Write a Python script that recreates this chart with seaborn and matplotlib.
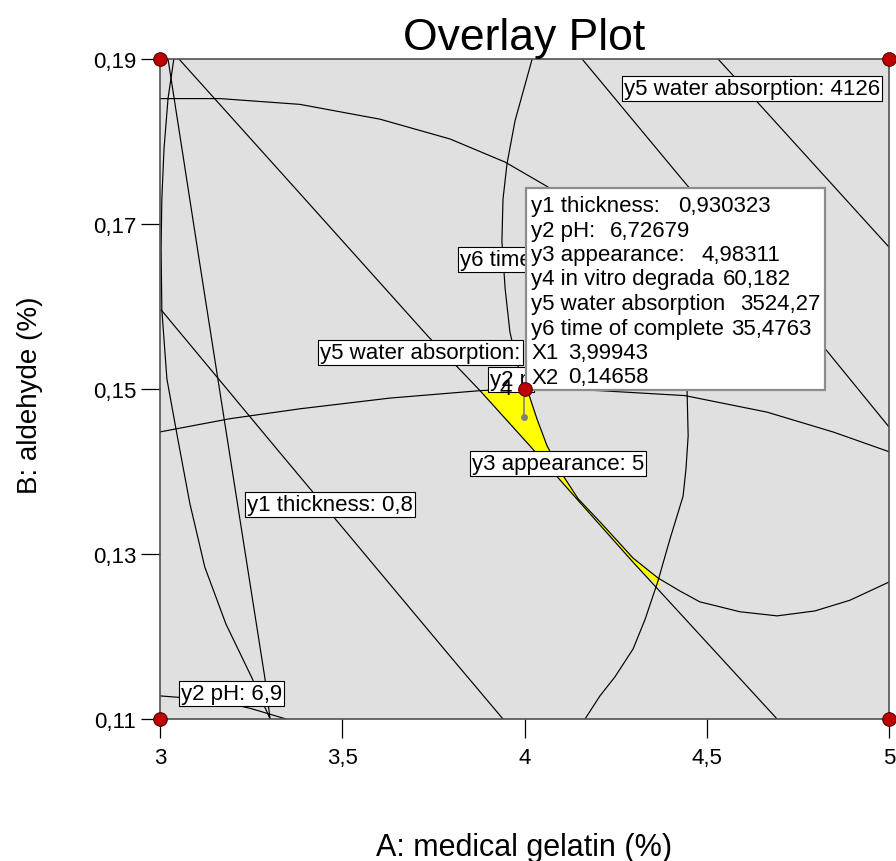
import numpy as np
import pandas as pd
import matplotlib
matplotlib.use("Agg")
import matplotlib.pyplot as plt
import seaborn as sns
from matplotlib.patches import Rectangle

# ---------------- data ----------------
x_ticks = [3.0, 3.5, 4.0, 4.5, 5.0]
x_tick_labels = ["3", "3,5", "4", "4,5", "5"]
y_ticks = [0.11, 0.13, 0.15, 0.17, 0.19]
y_tick_labels = ["0,11", "0,13", "0,15", "0,17", "0,19"]

# design points
design_x = [3.0, 3.0, 5.0, 5.0, 4.0]
design_y = [0.11, 0.19, 0.11, 0.19, 0.15]

# optimum (flag) point
opt_x = 3.99943
opt_y = 0.14658

# contour lines (A, B)
arc_big_x = [3.000, 3.165, 3.384, 3.604, 3.796, 3.947, 4.064, 4.207, 4.317, 4.394, 4.435,
             4.446, 4.449, 4.443, 4.435, 4.399, 4.366, 4.331, 4.298, 4.248, 4.207, 4.166]
arc_big_y = [0.1852, 0.1852, 0.1845, 0.1827, 0.1803, 0.1775, 0.1745, 0.1700, 0.1639, 0.1573, 0.1524,
             0.1498, 0.1443, 0.1403, 0.1370, 0.1318, 0.1267, 0.1221, 0.1185, 0.1151, 0.1128, 0.1100]

y3_x = [4.021, 3.974, 3.952, 3.941, 3.938, 3.947, 3.960, 3.979, 3.993, 4.007, 4.034, 4.062,
        4.103, 4.147, 4.207, 4.298, 4.366, 4.427, 4.481, 4.591, 4.693, 4.797, 4.893, 5.000]
y3_y = [0.1900, 0.1825, 0.1773, 0.1730, 0.1679, 0.1621, 0.1569, 0.1533, 0.1512, 0.1500, 0.1464, 0.1431,
        0.1397, 0.1367, 0.1339, 0.1295, 0.1271, 0.1255, 0.1242, 0.1230, 0.1225, 0.1231, 0.1244, 0.1266]

y5_low_x = [3.052, 3.398, 3.735, 3.878, 4.015, 4.147, 4.298, 4.481, 4.693]
y5_low_y = [0.1900, 0.1730, 0.1564, 0.1498, 0.1431, 0.1365, 0.1290, 0.1202, 0.1100]

mid_x = [4.158, 4.427, 4.830, 5.000]
mid_y = [0.1900, 0.1757, 0.1546, 0.1454]

y5_high_x = [4.531, 4.624, 5.000]
y5_high_y = [0.1900, 0.1855, 0.1672]

ph_arc_x = [3.000, 3.192, 3.384, 3.631, 3.878, 4.007, 4.207, 4.440, 4.665, 4.846, 5.000]
ph_arc_y = [0.1448, 0.1464, 0.1476, 0.1489, 0.1498, 0.1501, 0.1498, 0.1492, 0.1472, 0.1448, 0.1424]

ph69_x = [3.000, 3.148, 3.247, 3.346]
ph69_y = [0.1128, 0.1123, 0.1113, 0.1100]

left_a_x = [3.038, 3.022, 3.011, 3.005, 3.003, 3.005, 3.019, 3.049, 3.082, 3.123, 3.181, 3.252, 3.302]
left_a_y = [0.1900, 0.1852, 0.1791, 0.1730, 0.1670, 0.1596, 0.1512, 0.1439, 0.1361, 0.1284, 0.1215, 0.1150, 0.1100]

left_b_x = [3.022, 3.107, 3.189, 3.288, 3.302]
left_b_y = [0.1900, 0.1658, 0.1427, 0.1149, 0.1100]

y1_x = [3.003, 3.321, 3.796, 3.941]
y1_y = [0.1596, 0.1427, 0.1176, 0.1100]

# feasible (yellow) region outline
yel_x = [3.878, 4.007, 4.034, 4.062, 4.103, 4.147, 4.207, 4.298, 4.366, 4.372, 4.298, 4.207, 4.147, 4.015]
yel_y = [0.1498, 0.1501, 0.1464, 0.1431, 0.1397, 0.1367, 0.1339, 0.1295, 0.1271, 0.1259, 0.1290, 0.1335, 0.1364, 0.1431]

# contour labels as far as they are visible (the rest is covered by the flag)
contour_labels = ["y5 water absorption: 4126", "y6 time", "y5 water absorption:",
                  "y2 p", "y3 appearance: 5", "y1 thickness: 0,8", "y2 pH: 6,9"]

flag_names = ["y1 thickness:", "y2 pH:", "y3 appearance:", "y4 in vitro degrada",
              "y5 water absorption", "y6 time of complete", "X1", "X2"]
flag_values = ["0,930323", "6,72679", "4,98311", "60,182", "3524,27", "35,4763", "3,99943", "0,14658"]

# ---------------- drawing ----------------
sns.set_theme(style="white")
plt.rcParams['font.family'] = ['Liberation Sans', 'DejaVu Sans']
plt.rcParams['text.color'] = 'black'
plt.rcParams['xtick.color'] = 'black'
plt.rcParams['ytick.color'] = 'black'
plt.rcParams['axes.labelcolor'] = 'black'

W, H = 896, 862
fig = plt.figure(figsize=(W / 100, H / 100), dpi=100)
L, R, T, B = 160, 889, 60, 720
ax = fig.add_axes([L / W, 1 - B / H, (R - L) / W, (B - T) / H])
ax.set_facecolor('#e0e0e0')
ax.set_xlim(3, 5)
ax.set_ylim(0.11, 0.19)


def P(xp, yp):
    """reference pixel -> data coordinates (for annotation placement)"""
    return 3 + (xp - L) / (R - L) * 2, 0.19 - (yp - T) / (B - T) * 0.08


ax.fill(yel_x, yel_y, color='#ffff00', lw=0, zorder=1.5)

curves = [(arc_big_x, arc_big_y), (y3_x, y3_y), (y5_low_x, y5_low_y), (mid_x, mid_y),
          (y5_high_x, y5_high_y), (ph_arc_x, ph_arc_y), (ph69_x, ph69_y),
          (left_a_x, left_a_y), (left_b_x, left_b_y), (y1_x, y1_y)]
for cx, cy in curves:
    sns.lineplot(x=cx, y=cy, sort=False, estimator=None, color='black', lw=0.85, ax=ax, zorder=2)

# contour labels
label_pos = [(624, 95), (460, 266), (320, 359), (490, 386), (472, 470), (247, 511), (181, 700)]
for txt, (xp, yp) in zip(contour_labels, label_pos):
    ax.text(*P(xp, yp), txt, fontsize=16, ha='left', va='baseline', zorder=4,
            bbox=dict(boxstyle='square,pad=0.1', fc='white', ec='black', lw=0.8))
ax.text(*P(500, 395), "4", fontsize=16, ha='left', va='baseline', zorder=4.5)

# flag pole and point
ax.plot([opt_x, opt_x], [P(0, 391)[1], opt_y], color='#808080', lw=1.2, zorder=5)
ax.plot([opt_x], [opt_y], 'o', color='#808080', ms=4, zorder=5)

# flag box
x0, y0 = P(526, 391)
x1, y1 = P(825, 189)
ax.add_patch(Rectangle((x0, y0), x1 - x0, y1 - y0, fc='white', ec='#8c8c8c', lw=1.6,
                       zorder=6, clip_on=False))
base = [212, 236.5, 261, 285.5, 310, 334.5, 359, 383.5]
val_x = [678, 610, 702, 723, 740, 731, 568, 568]
for nm, vl, yb, xv in zip(flag_names, flag_values, base, val_x):
    ax.text(*P(531, yb), nm, fontsize=16, ha='left', va='baseline', zorder=7, clip_on=False)
    ax.text(*P(xv, yb), vl, fontsize=16, ha='left', va='baseline', zorder=7, clip_on=False)

# design points
sns.scatterplot(x=design_x, y=design_y, ax=ax, s=95, color='#c00000', edgecolor='#500000',
                linewidth=0.8, zorder=8, clip_on=False, legend=False)
ax.collections[-1].set_clip_on(False)

# axes styling
for sp in ax.spines.values():
    sp.set_color('#505050')
    sp.set_linewidth(1.2)
ax.set_xticks(x_ticks)
ax.set_xticklabels(x_tick_labels)
ax.set_yticks(y_ticks)
ax.set_yticklabels(y_tick_labels)
ax.tick_params(axis='both', which='both', direction='out', length=14, width=0.9,
               color='black', labelcolor='black', labelsize=16, bottom=True, left=True)
ax.tick_params(axis='x', pad=6)
ax.tick_params(axis='y', pad=3)
ax.set_xlabel("")
ax.set_ylabel("")

fig.text(524.5 / W, 1 - 50 / H, "Overlay Plot", ha='center', va='baseline', fontsize=32)
fig.text(524 / W, 1 - 856 / H, "A: medical gelatin (%)", ha='center', va='baseline', fontsize=22)
fig.text(30 / W, 1 - 395 / H, "B: aldehyde (%)", ha='center', va='center', rotation=90, fontsize=20)

fig.savefig("out.png", dpi=100)
